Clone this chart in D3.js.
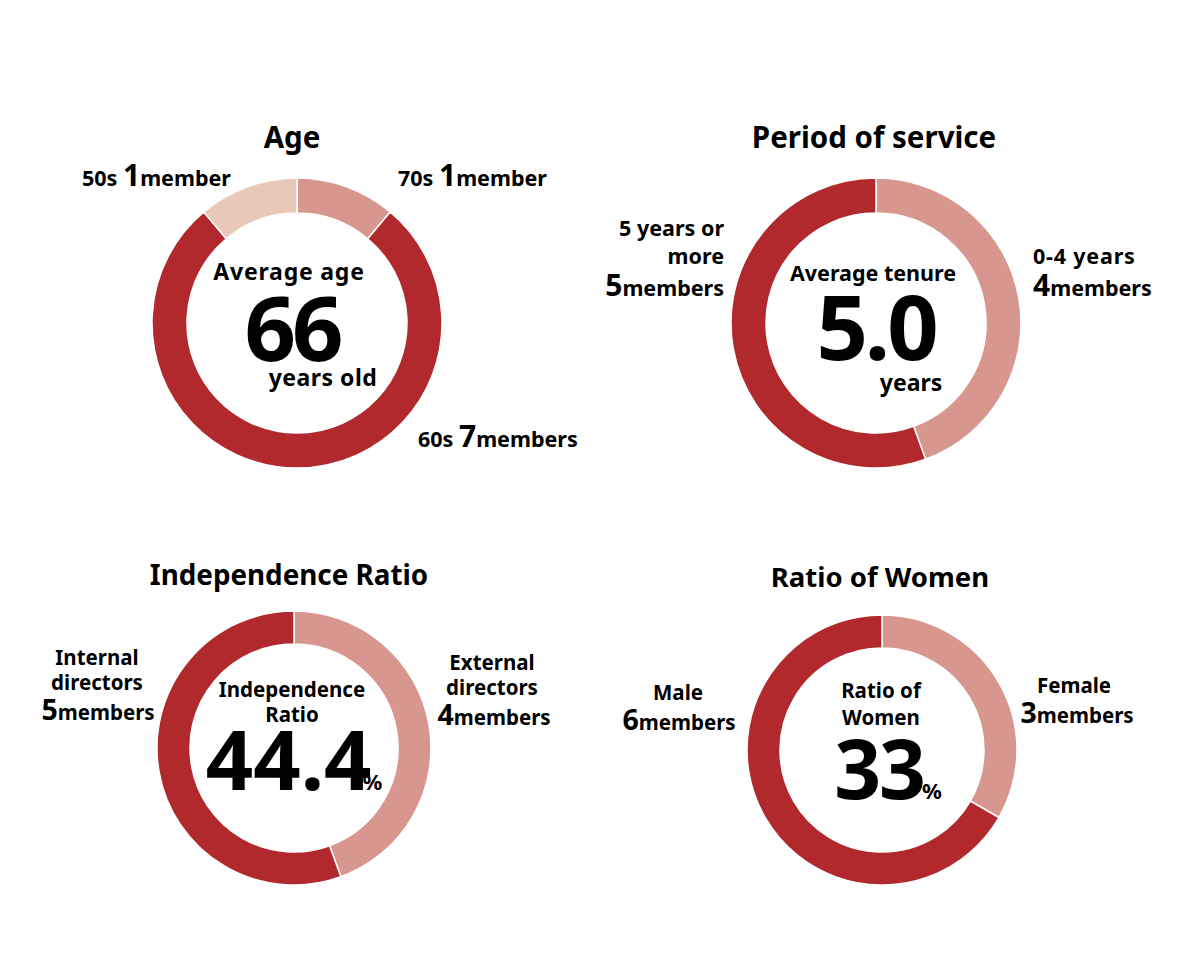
<!DOCTYPE html>
<html><head><meta charset="utf-8">
<script src="https://cdn.jsdelivr.net/npm/d3@7"></script>
<style>
html,body{margin:0;padding:0;background:#fff;}
svg text{font-family:"Noto Sans",sans-serif;font-weight:700;fill:#000;}
</style></head>
<body><svg id="c" width="1181" height="964"></svg>
<script>
// ---- data ----
const ageCategories = ["70s", "60s", "50s"];
const ageValues = [1, 7, 1];
const tenureCategories = ["0-4 years", "5 years or more"];
const tenureValues = [4, 5];
const independenceCategories = ["External directors", "Internal directors"];
const independenceValues = [4, 5];
const genderCategories = ["Female", "Male"];
const genderValues = [3, 6];
const chartTitles = ["Age", "Period of service", "Independence Ratio", "Ratio of Women"];
const centerValues = ["66", "5.0", "44.4", "33"];

const DARK = "#b2292d", LIGHT = "#d7978e", LIGHTEST = "#e8c9b9";

const svg = d3.select("#c");
const pie = d3.pie().sort(null).value(d => d.v);

function donut(cx, cy, R, r, cats, vals, colors) {
  const g = svg.append("g").attr("transform", `translate(${cx},${cy})`);
  const arc = d3.arc().innerRadius(r).outerRadius(R);
  const data = cats.map((c, i) => ({c, v: vals[i], color: colors[i]}));
  g.selectAll("path").data(pie(data)).join("path")
    .attr("d", arc).attr("fill", d => d.data.color)
    .attr("stroke", "#fff").attr("stroke-width", 1.5);
  return g;
}

// text helper: parts = [[text, size, letterSpacing, dx], ...]
function txt(x, y, parts, anchor) {
  const t = svg.append("text").attr("x", x).attr("y", y).attr("text-anchor", anchor || "middle");
  parts.forEach(p => {
    const s = t.append("tspan").attr("font-size", p[1]).text(p[0]);
    if (p[2]) s.attr("letter-spacing", p[2]);
    if (p[3]) s.attr("dx", p[3]);
  });
  return t;
}

const LB = 21.5, NUM = 30;   // top row labels
const LB2 = 20.5, NUM2 = 28.5; // bottom row labels

// ---- titles ----
txt(292, 148, [[chartTitles[0], 29.5]]);
txt(874, 148, [[chartTitles[1], 29.5]]);
txt(289, 585, [[chartTitles[2], 27.8]]);
txt(880, 587, [[chartTitles[3], 27.5]]);

// ---- Age ----
donut(297, 323, 145, 110, ageCategories, ageValues, [LIGHT, DARK, LIGHTEST]);
txt(82, 186, [[ageCategories[2] + " ", LB], [String(ageValues[2]), NUM], ["member", LB]], "start");
txt(398, 186, [[ageCategories[0] + " ", LB], [String(ageValues[0]), NUM], ["member", LB]], "start");
txt(418, 447, [[ageCategories[1] + " ", LB], [String(ageValues[1]), NUM], ["members", LB]], "start");
txt(289, 280, [["Average age", 23, 0.8]]);
txt(292, 361, [[centerValues[0], 90, -4]]);
txt(323, 386, [["years old", 23, 0.5]]);

// ---- Period of service ----
donut(876, 323, 145, 110, tenureCategories, tenureValues, [LIGHT, DARK]);
txt(724, 236, [["5 years or", LB]], "end");
txt(724, 264, [["more", LB]], "end");
txt(724, 296, [[String(tenureValues[1]), NUM], ["members", LB]], "end");
txt(1033, 264, [["0-4 years", LB, 0.8]], "start");
txt(1033, 296, [[String(tenureValues[0]), NUM], ["members", LB]], "start");
txt(873, 281, [["Average tenure", 21.5]]);
txt(876, 360, [[centerValues[1], 90, -3]]);
txt(911, 391, [["years", 23]]);

// ---- Independence ----
donut(294, 748, 137, 104, independenceCategories, independenceValues, [LIGHT, DARK]);
txt(97, 665, [["Internal", LB2]]);
txt(97, 690, [["directors", LB2]]);
txt(98, 720, [[String(independenceValues[1]), NUM2], ["members", LB2]]);
txt(492, 670, [["External", LB2]]);
txt(492, 695, [["directors", LB2]]);
txt(494, 725, [[String(independenceValues[0]), NUM2], ["members", LB2]]);
txt(292, 697, [["Independence", 20.5]]);
txt(292, 722, [["Ratio", 20.5]]);
txt(294, 790, [[centerValues[2], 83], ["%", 22, 0, -9]]);

// ---- Women ----
donut(882, 750, 135, 102, genderCategories, genderValues, [LIGHT, DARK]);
txt(678, 700, [["Male", LB2]]);
txt(679, 730, [[String(genderValues[1]), NUM2], ["members", LB2]]);
txt(1074, 693, [["Female", LB2]]);
txt(1077, 723, [[String(genderValues[0]), NUM2], ["members", LB2]]);
txt(881, 698, [["Ratio of", 20.5]]);
txt(881, 725, [["Women", 20.5]]);
txt(888, 799, [[centerValues[3], 82, -2], ["%", 22, 0, -2]]);
</script></body></html>
